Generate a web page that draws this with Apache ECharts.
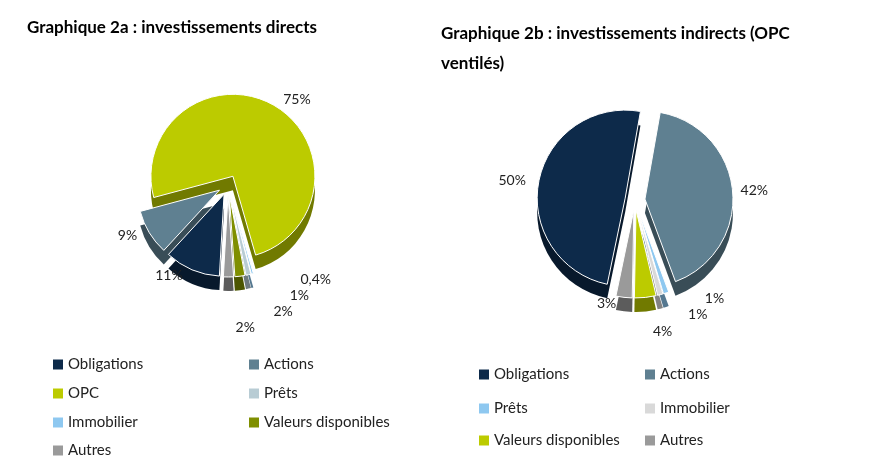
<!DOCTYPE html>
<html><head><meta charset="utf-8">
<script src="https://cdn.jsdelivr.net/npm/echarts@6/dist/echarts.min.js"></script>
<style>html,body{margin:0;background:#fff}#c{width:872px;height:472px}</style>
</head><body><div id="c"></div>
<script>
const catsA = ['OPC','Immobilier','Prêts','Valeurs disponibles','Autres','Obligations','Actions'];
const valsA = [75,0.4,1,2,2,11,9];
const labA  = ['75%','0,4%','1%','2%','2%','11%','9%'];
const legendA = ['Obligations','Actions','OPC','Prêts','Immobilier','Valeurs disponibles','Autres'];
const catsB = ['Actions','Prêts','Immobilier','Valeurs disponibles','Autres','Obligations'];
const valsB = [42,1,1,4,3,50];
const labB  = ['42%','1%','1%','4%','3%','50%'];
const legendB = ['Obligations','Actions','Prêts','Immobilier','Valeurs disponibles','Autres'];
const colors = {'Obligations':'#0D2A4A','Actions':'#5F8091','OPC':'#BCCB00','Prêts':'#B8CCD4',
  'Immobilier':'#8EC8F0','Valeurs disponibles':'#7F8F00','Autres':'#9A9A9A'};
const colorsB = Object.assign({}, colors, {'Prêts':'#8EC8F0','Immobilier':'#D9D9D9','Valeurs disponibles':'#BCCB00'});
function darken(h){const n=parseInt(h.slice(1),16);const f=0.6;
  return 'rgb('+Math.round((n>>16)*f)+','+Math.round(((n>>8)&255)*f)+','+Math.round((n&255)*f)+')';}
const font = 'Lato, "Open Sans", sans-serif';
function pies(cats, vals, labs, cmap, center, r, start){
  const base = {type:'pie', radius:r, startAngle:start, selectedMode:'multiple', selectedOffset:10,
    animation:false, labelLine:{show:false}};
  const shadow = Object.assign({}, base, {center:[center[0], center[1]+14], silent:true, z:1,
    label:{show:false},
    data: cats.map((c,i)=>({name:c, value:vals[i], selected:true, itemStyle:{color:darken(cmap[c])}}))});
  const top = Object.assign({}, base, {center:center, z:2,
    label:{show:true, position:'outside', fontFamily:font, fontSize:14, color:'#222',
      formatter:p=>labs[p.dataIndex]},
    labelLine:{show:false, length:6, length2:2},
    data: cats.map((c,i)=>({name:c, value:vals[i], selected:true, itemStyle:{color:cmap[c], borderColor:'#fff', borderWidth:1}}))});
  return [shadow, top];
}
const legends = [];
const legPosA = [[48,352],[244,352],[48,381],[244,381],[48,410],[244,410],[48,438]];
legendA.forEach((n,i)=>legends.push({data:[{name:n, itemStyle:{color:colors[n]}}], left:legPosA[i][0], top:legPosA[i][1]}));
const legPosB = [[474,362],[640,362],[474,396],[640,396],[474,428],[640,428]];
legendB.forEach((n,i)=>legends.push({data:[{name:n, itemStyle:{color:colorsB[n]}}], left:legPosB[i][0], top:legPosB[i][1]}));
legends.forEach(l=>{l.icon='rect'; l.itemWidth=10; l.itemHeight=10; l.itemGap=6; l.selectedMode=false;
  l.textStyle={fontFamily:font, fontSize:15, color:'#222'};});
const chart = echarts.init(document.getElementById('c'));
const sA = pies(catsA, valsA, labA, colors, [228,185], 82, 195);
const sB = pies(catsB, valsB, labB, colorsB, [635,200], 88, 80);
chart.setOption({
  backgroundColor:'#fff',
  title:[
    {text:'Graphique 2a : investissements directs', left:22, top:14,
      textStyle:{fontFamily:font, fontSize:17, fontWeight:'bold', color:'#000'}},
    {text:'Graphique 2b : investissements indirects (OPC\nventilés)', left:436, top:14,
      textStyle:{fontFamily:font, fontSize:17, fontWeight:'bold', color:'#000', lineHeight:30}}
  ],
  legend: legends,
  series: [sA[0], sA[1], sB[0], sB[1]]
});
</script></body></html>
